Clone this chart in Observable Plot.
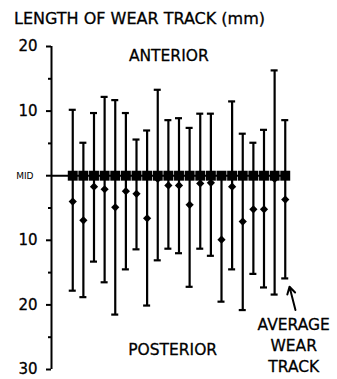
<!DOCTYPE html>
<html><head><meta charset="utf-8">
<script src="https://cdn.jsdelivr.net/npm/d3@7"></script>
<script src="https://cdn.jsdelivr.net/npm/@observablehq/plot@0.6"></script>
<style>
body{margin:0;background:#fff;}
#title{font-family:"DejaVu Sans";font-size:16px;line-height:20px;height:20px;padding:9px 0 0 14px;color:#000;-webkit-text-stroke:0.3px #000;white-space:nowrap;}
#chart svg{display:block;}
</style></head><body>
<div id="title">LENGTH OF WEAR TRACK (mm)</div>
<div id="chart"></div>
<script>
// Data (mm; anterior positive, posterior negative, MID = 0)
const anterior  = [10.2, 5.1, 9.7, 12.2, 11.7, 9.7, 5.6, 7.0, 13.3, 8.6, 8.9, 7.4, 9.6, 9.6, 0, 11.5, 6.5, 5.1, 7.1, 16.3, 8.6];
const posterior = [-17.8, -18.8, -13.3, -16.5, -21.5, -14.5, -11.4, -20.1, -13.1, -11.3, -12.0, -17.2, -11.3, -12.4, -19.5, -14.5, -20.8, -15.2, -17.3, -18.4, -15.9];
const average   = [-4.0, -6.9, -1.7, -2.1, -4.9, -2.4, -2.8, -6.6, -0.5, -1.5, -1.5, -4.5, -1.2, -1.1, -9.9, -1.7, -7.1, -5.2, -5.2, -0.5, -3.7];
const yTicks = [20, 10, 0, -10, -20, -30];
const yTickLabels = ["20", "10", "MID", "10", "20", "30"];
const yMinorTicks = [15, 5, -5, -15, -25];
const notes = ["ANTERIOR", "POSTERIOR", "AVERAGE", "WEAR", "TRACK"];

// layout
const notePos = [[9.04, 18.6], [9.4, -27], [20.8, -23.1], [20.8, -26.4], [20.8, -29.6]];
const xDomain = [-2, 22];
const capHalf = 0.33;

const data = anterior.map((a, i) => ({i, a, p: posterior[i], m: average[i], mid: 0}));
const tickData = yTicks.map((v, k) => ({v, label: yTickLabels[k]}));
const noteData = notes.map((t, k) => ({t, x: notePos[k][0], y: notePos[k][1]}));

const chart = Plot.plot({
  width: 337, height: 350,
  marginTop: 17, marginBottom: 10, marginLeft: 51, marginRight: 31,
  x: {domain: xDomain, axis: null},
  y: {domain: [-30, 20]},
  style: {fontFamily: "DejaVu Sans", color: "#000", background: "#fff"},
  marks: [
    Plot.ruleX(data, {x: "i", y1: "a", y2: "p", strokeWidth: 2.2}),
    Plot.ruleY(data, {y: "a", x1: d => d.i - capHalf, x2: d => d.i + capHalf, strokeWidth: 2.2}),
    Plot.ruleY(data, {y: "p", x1: d => d.i - capHalf, x2: d => d.i + capHalf, strokeWidth: 2.2}),
    Plot.ruleY([0], {x1: xDomain[0], x2: data.length - 1, strokeWidth: 2}),
    Plot.dot(data, {x: "i", y: "m", symbol: "diamond2", r: 3.7, fill: "#000", stroke: null}),
    Plot.dot(data, {x: "i", y: "mid", symbol: "square", r: 5.6, fill: "#000", stroke: null}),
    Plot.ruleX([xDomain[0]], {y1: yTicks[0], y2: yTicks[yTicks.length - 1], strokeWidth: 2}),
    Plot.axisY({ticks: yTicks, tickSize: 5, tickFormat: () => "", strokeWidth: 2, label: null}),
    Plot.axisY({ticks: yMinorTicks, tickSize: 3, tickFormat: () => "", strokeWidth: 2, label: null}),
    Plot.text(tickData.filter(d => d.label !== "MID"), {y: "v", text: "label", frameAnchor: "left", dx: -14, textAnchor: "end", fontSize: 15, stroke: "#000", strokeWidth: 0.3, fill: "#000"}),
    Plot.text(tickData.filter(d => d.label === "MID"), {y: "v", text: "label", frameAnchor: "left", dx: -18, textAnchor: "end", fontSize: 9, fill: "#000"}),
    Plot.text(noteData, {x: "x", y: "y", text: "t", fontSize: 15.5, fill: "#000", stroke: "#000", strokeWidth: 0.3}),
    Plot.arrow([{x1: 20.96, y1: -20.8, x2: 20.4, y2: -17.2}], {x1: "x1", y1: "y1", x2: "x2", y2: "y2", strokeWidth: 2, headLength: 7})
  ]
});
document.getElementById("chart").appendChild(chart);
</script></body></html>
